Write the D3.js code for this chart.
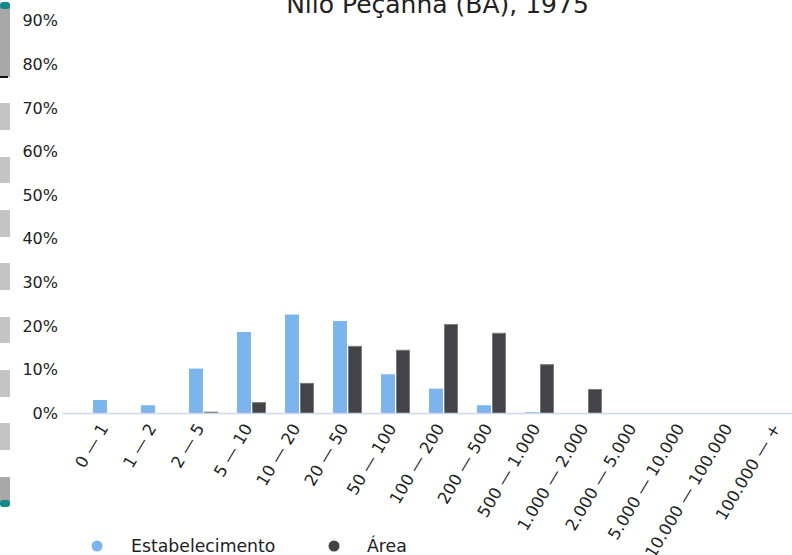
<!DOCTYPE html>
<html>
<head>
<meta charset="utf-8">
<script src="https://cdn.jsdelivr.net/npm/d3@7"></script>
<style>
  html, body { margin: 0; padding: 0; background: #ffffff; }
  svg { display: block; font-family: "DejaVu Sans", sans-serif; }
</style>
</head>
<body>
<svg id="chart" width="792" height="555"></svg>
<script>
const title = "Nilo Peçanha (BA), 1975";
const categories = ["0 — 1", "1 — 2", "2 — 5", "5 — 10", "10 — 20", "20 — 50", "50 — 100", "100 — 200", "200 — 500", "500 — 1.000", "1.000 — 2.000", "2.000 — 5.000", "5.000 — 10.000", "10.000 — 100.000", "100.000 — +"];
const seriesNames = ["Estabelecimento", "Área"];
const estabelecimento = [3.1, 1.9, 10.3, 18.7, 22.7, 21.2, 9.0, 5.7, 1.9, 0.3, 0, 0, 0, 0, 0];
const area = [0, 0, 0.3, 2.5, 6.9, 15.4, 14.5, 20.4, 18.4, 11.2, 5.5, 0, 0, 0, 0];
const yTicks = [0, 10, 20, 30, 40, 50, 60, 70, 80, 90];
const colors = ["#7cb5ec", "#434348"];

const svg = d3.select("#chart");

// left side decoration strip
const deco = svg.append("g");
const lightBlocks = [[103, 130], [157, 183], [210, 237], [263, 290], [317, 343], [370, 397], [423, 450]];
deco.append("rect").attr("x", 0).attr("y", 7).attr("width", 10).attr("height", 70).attr("fill", "#a8a8a8");
deco.append("rect").attr("x", 0).attr("y", 2).attr("width", 10).attr("height", 7).attr("rx", 3).attr("fill", "#16898b");
deco.append("rect").attr("x", 0).attr("y", 76).attr("width", 8).attr("height", 2).attr("fill", "#111");
lightBlocks.forEach(b => deco.append("rect").attr("x", 0).attr("y", b[0]).attr("width", 10).attr("height", b[1] - b[0]).attr("fill", "#c4c4c4"));
deco.append("rect").attr("x", 0).attr("y", 477).attr("width", 10).attr("height", 26).attr("fill", "#a8a8a8");
deco.append("rect").attr("x", 0).attr("y", 500).attr("width", 10).attr("height", 7).attr("rx", 3).attr("fill", "#16898b");

// scales
const y = d3.scaleLinear().domain([0, 90]).range([413.5, 21.1]);
const x = d3.scaleBand().domain(categories).range([83.5, 803.5]).padding(0);
const xs = d3.scaleBand().domain(seriesNames).range([-14.5, 14.5]).paddingInner(1 / 15);

// title
svg.append("text").attr("x", 437.5).attr("y", 13).attr("text-anchor", "middle")
  .attr("font-size", 25).attr("fill", "#222").text(title);

// y axis labels
const yAxis = d3.axisLeft(y).tickValues(yTicks).tickFormat(d => d + "%").tickSize(0).tickPadding(0);
const gy = svg.append("g").attr("transform", "translate(58,0)").call(yAxis);
gy.select(".domain").remove();
gy.selectAll("text").attr("font-size", 16).attr("fill", "#222").attr("font-family", "DejaVu Sans, sans-serif").attr("dy", "0.3em");

// bars
const data = categories.map((c, i) => ({ c, vals: [estabelecimento[i], area[i]] }));
const groups = svg.append("g").selectAll("g").data(data).join("g")
  .attr("transform", d => `translate(${x(d.c) + x.bandwidth() / 2},0)`);
groups.selectAll("rect").data(d => d.vals.map((v, k) => ({ v, k })))
  .join("rect")
  .attr("x", d => xs(seriesNames[d.k]) + (d.k === 1 ? 0.5 : 0))
  .attr("y", d => y(d.v))
  .attr("width", d => xs.bandwidth() - (d.k === 1 ? 1 : 0))
  .attr("height", d => Math.max(0, y(0) - y(d.v)))
  .attr("fill", d => colors[d.k])
  .attr("stroke", d => d.k === 1 ? "#7a7a80" : "none")
  .attr("stroke-width", d => d.k === 1 ? 1 : 0)
  .attr("display", d => d.v > 0 ? null : "none");

// x axis
const xAxis = d3.axisBottom(x).tickSize(0).tickPadding(0);
const gx = svg.append("g").attr("transform", "translate(0,413.5)").call(xAxis);
gx.select(".domain").remove();
gx.selectAll("text")
  .attr("font-size", 16.5).attr("fill", "#222").attr("font-family", "DejaVu Sans, sans-serif")
  .attr("text-anchor", "end").attr("dy", null).attr("y", 0)
  .attr("transform", "translate(1.5,14.5) rotate(-59)");
svg.append("line").attr("x1", 63).attr("x2", 792).attr("y1", 413.5).attr("y2", 413.5)
  .attr("stroke", "#ccd6eb").attr("stroke-width", 1.5);

// legend
const legX = [97, 334];
const leg = svg.append("g").selectAll("g").data(seriesNames).join("g")
  .attr("transform", (d, i) => `translate(${legX[i]},546)`);
leg.append("circle").attr("r", 5.5).attr("fill", (d, i) => colors[i]);
leg.append("text").attr("x", (d, i) => i === 0 ? 34 : 33).attr("y", 5.5)
  .attr("font-size", 17.3).attr("fill", "#222").text(d => d);
</script>
</body>
</html>
